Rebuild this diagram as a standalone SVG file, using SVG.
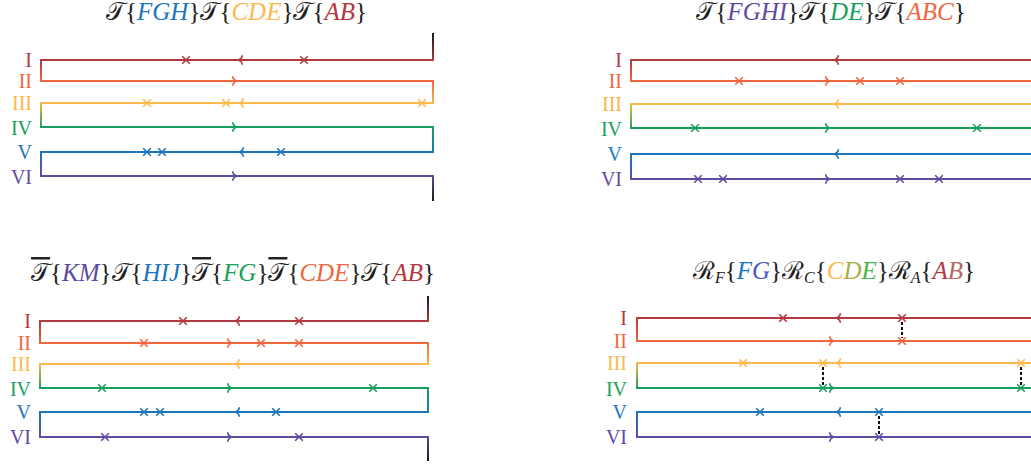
<svg xmlns="http://www.w3.org/2000/svg" xmlns:xlink="http://www.w3.org/1999/xlink" width="1031" height="466" viewBox="0 0 1031 466">
<style>
.ln{fill:none;stroke-width:2}
.mk{fill:none;stroke-width:1.6}
.c1{stroke:#b2393f}.c2{stroke:#f0663f}.c3{stroke:#fdb94d}.c4{stroke:#17a05d}.c5{stroke:#1b76bd}.c6{stroke:#5f4ba0}
.f1{fill:#b2393f}.f2{fill:#f0663f}.f3{fill:#fdb94d}.f4{fill:#17a05d}.f5{fill:#1b76bd}.f6{fill:#5f4ba0}
.lab{font-family:"Liberation Serif","Times New Roman",serif;font-size:20px;text-anchor:end}
.ttl{font-family:"Liberation Serif","Times New Roman",serif;font-size:25px;text-anchor:middle;fill:#222}
.it{font-style:italic}
.bar{text-decoration:overline}
.sub{font-size:16px;font-style:italic}
.dash{stroke:#111;stroke-width:2;stroke-dasharray:3 2;fill:none}
</style>
<defs>
<path id="x" d="M-3.8,-3.8L3.8,3.8M-3.8,3.8L3.8,-3.8"/>
<path id="al" d="M2.5,-4.8C1.8,-1.7 0.5,-0.4 -2.5,0C0.5,0.4 1.8,1.7 2.5,4.8"/>
<path id="ar" d="M-2.5,-4.8C-1.8,-1.7 -0.5,-0.4 2.5,0C-0.5,0.4 -1.8,1.7 -2.5,4.8"/>
<linearGradient id="g12" x1="0" y1="0" x2="0" y2="1"><stop offset="0" stop-color="#b2393f"/><stop offset="1" stop-color="#f0663f"/></linearGradient>
<linearGradient id="g23" x1="0" y1="0" x2="0" y2="1"><stop offset="0" stop-color="#f0663f"/><stop offset="1" stop-color="#fdb94d"/></linearGradient>
<linearGradient id="g34" x1="0" y1="0" x2="0" y2="1"><stop offset="0" stop-color="#fdb94d"/><stop offset="1" stop-color="#17a05d"/></linearGradient>
<linearGradient id="g45" x1="0" y1="0" x2="0" y2="1"><stop offset="0" stop-color="#17a05d"/><stop offset="1" stop-color="#1b76bd"/></linearGradient>
<linearGradient id="g56" x1="0" y1="0" x2="0" y2="1"><stop offset="0" stop-color="#1b76bd"/><stop offset="1" stop-color="#5f4ba0"/></linearGradient>
<linearGradient id="gtop" x1="0" y1="0" x2="0" y2="1"><stop offset="0" stop-color="#1a1a1a"/><stop offset="1" stop-color="#b2393f"/></linearGradient>
<linearGradient id="gbot" x1="0" y1="0" x2="0" y2="1"><stop offset="0" stop-color="#5f4ba0"/><stop offset="1" stop-color="#1a1a1a"/></linearGradient>
</defs>

<!-- Panel 1 -->
<g id="panel1">
<text class="ttl" x="236.5" y="20">𝒯{<tspan class="it" fill="#1b76bd">FGH</tspan>}𝒯{<tspan class="it" fill="#fdb94d">CDE</tspan>}𝒯{<tspan class="it" fill="#b2393f">AB</tspan>}</text>
<g id="p1-labels" class="lab">
<text class="f1" x="32" y="67">I</text><text class="f2" x="32" y="88">II</text><text class="f3" x="32" y="110">III</text>
<text class="f4" x="32" y="135">IV</text><text class="f5" x="32" y="159">V</text><text class="f6" x="32" y="184">VI</text>
</g>
<g id="p1-connectors">
<rect x="432" y="33" width="2" height="28" fill="url(#gtop)"/>
<path class="ln c1" d="M434,60H40"/>
<rect x="40" y="59" width="2" height="23" fill="url(#g12)"/>
<path class="ln c2" d="M40,81H434"/>
<rect x="432" y="80" width="2" height="24" fill="url(#g23)"/>
<path class="ln c3" d="M434,103H40"/>
<rect x="40" y="102" width="2" height="26" fill="url(#g34)"/>
<path class="ln c4" d="M40,127H434"/>
<rect x="432" y="126" width="2" height="27" fill="url(#g45)"/>
<path class="ln c5" d="M434,152H40"/>
<rect x="40" y="151" width="2" height="26" fill="url(#g56)"/>
<path class="ln c6" d="M40,176H434"/>
<rect x="432" y="175" width="2" height="26" fill="url(#gbot)"/>
</g>
<g id="p1-marks" class="mk">
<use href="#x" class="c1" x="186" y="60"/><use href="#al" class="c1" x="240" y="60"/><use href="#x" class="c1" x="304" y="60"/>
<use href="#ar" class="c2" x="235" y="81"/>
<use href="#x" class="c3" x="147" y="103"/><use href="#x" class="c3" x="226" y="103"/><use href="#al" class="c3" x="241" y="103"/><use href="#x" class="c3" x="422" y="103"/>
<use href="#ar" class="c4" x="235" y="127"/>
<use href="#x" class="c5" x="147" y="152"/><use href="#x" class="c5" x="162" y="152"/><use href="#al" class="c5" x="241" y="152"/><use href="#x" class="c5" x="281" y="152"/>
<use href="#ar" class="c6" x="235" y="176"/>
</g>
</g>

<!-- Panel 2 -->
<g id="panel2">
<text class="ttl" x="831" y="20">𝒯{<tspan class="it" fill="#5f4ba0">FGHI</tspan>}𝒯{<tspan class="it" fill="#17a05d">DE</tspan>}𝒯{<tspan class="it" fill="#f0663f">ABC</tspan>}</text>
<g id="p2-labels" class="lab">
<text class="f1" x="622" y="67">I</text><text class="f2" x="622" y="88">II</text><text class="f3" x="622" y="111">III</text>
<text class="f4" x="622" y="136">IV</text><text class="f5" x="622" y="161">V</text><text class="f6" x="622" y="186">VI</text>
</g>
<g id="p2-connectors">
<path class="ln c1" d="M1032,60H630"/>
<rect x="630" y="59" width="2" height="23" fill="url(#g12)"/>
<path class="ln c2" d="M630,81H1032"/>
<path class="ln c3" d="M1032,104H630"/>
<rect x="630" y="103" width="2" height="26" fill="url(#g34)"/>
<path class="ln c4" d="M630,128H1032"/>
<path class="ln c5" d="M1032,154H630"/>
<rect x="630" y="153" width="2" height="27" fill="url(#g56)"/>
<path class="ln c6" d="M630,179H1032"/>
</g>
<g id="p2-marks" class="mk">
<use href="#al" class="c1" x="836" y="60"/>
<use href="#x" class="c2" x="739" y="81"/><use href="#ar" class="c2" x="828" y="81"/><use href="#x" class="c2" x="860" y="81"/><use href="#x" class="c2" x="900" y="81"/>
<use href="#al" class="c3" x="836" y="104"/>
<use href="#x" class="c4" x="695" y="128"/><use href="#ar" class="c4" x="828" y="128"/><use href="#x" class="c4" x="977" y="128"/>
<use href="#al" class="c5" x="836" y="154"/>
<use href="#x" class="c6" x="698" y="179"/><use href="#x" class="c6" x="723" y="179"/><use href="#ar" class="c6" x="828" y="179"/><use href="#x" class="c6" x="900" y="179"/><use href="#x" class="c6" x="939" y="179"/>
</g>
</g>

<!-- Panel 3 -->
<g id="panel3">
<text class="ttl" x="233" y="281"><tspan class="bar">𝒯</tspan>{<tspan class="it" fill="#5f4ba0">KM</tspan>}𝒯{<tspan class="it" fill="#1b76bd">HIJ</tspan>}<tspan class="bar">𝒯</tspan>{<tspan class="it" fill="#17a05d">FG</tspan>}<tspan class="bar">𝒯</tspan>{<tspan class="it" fill="#f0663f">CDE</tspan>}𝒯{<tspan class="it" fill="#b2393f">AB</tspan>}</text>
<g id="p3-labels" class="lab">
<text class="f1" x="31" y="328">I</text><text class="f2" x="31" y="350">II</text><text class="f3" x="31" y="371">III</text>
<text class="f4" x="31" y="396">IV</text><text class="f5" x="31" y="419">V</text><text class="f6" x="31" y="444">VI</text>
</g>
<g id="p3-connectors">
<rect x="427" y="296" width="2" height="26" fill="url(#gtop)"/>
<path class="ln c1" d="M429,321H39"/>
<rect x="39" y="320" width="2" height="24" fill="url(#g12)"/>
<path class="ln c2" d="M39,343H429"/>
<rect x="427" y="342" width="2" height="23" fill="url(#g23)"/>
<path class="ln c3" d="M429,364H39"/>
<rect x="39" y="363" width="2" height="26" fill="url(#g34)"/>
<path class="ln c4" d="M39,388H429"/>
<rect x="427" y="387" width="2" height="26" fill="url(#g45)"/>
<path class="ln c5" d="M429,412H39"/>
<rect x="39" y="411" width="2" height="27" fill="url(#g56)"/>
<path class="ln c6" d="M39,437H429"/>
<rect x="427" y="436" width="2" height="25" fill="url(#gbot)"/>
</g>
<g id="p3-marks" class="mk">
<use href="#x" class="c1" x="183" y="321"/><use href="#al" class="c1" x="237" y="321"/><use href="#x" class="c1" x="299" y="321"/>
<use href="#x" class="c2" x="144" y="343"/><use href="#ar" class="c2" x="230" y="343"/><use href="#x" class="c2" x="261" y="343"/><use href="#x" class="c2" x="299" y="343"/>
<use href="#al" class="c3" x="237" y="364"/>
<use href="#x" class="c4" x="102" y="388"/><use href="#ar" class="c4" x="230" y="388"/><use href="#x" class="c4" x="373" y="388"/>
<use href="#x" class="c5" x="144" y="412"/><use href="#x" class="c5" x="160" y="412"/><use href="#al" class="c5" x="237" y="412"/><use href="#x" class="c5" x="276" y="412"/>
<use href="#x" class="c6" x="105" y="437"/><use href="#ar" class="c6" x="230" y="437"/><use href="#x" class="c6" x="299" y="437"/>
</g>
</g>

<!-- Panel 4 -->
<g id="panel4">
<text class="ttl" x="834" y="279">ℛ<tspan class="sub" dy="4">F</tspan><tspan dy="-4">{</tspan><tspan class="it" fill="#1b76bd">F</tspan><tspan class="it" fill="#4a55c8">G</tspan>}ℛ<tspan class="sub" dy="4">C</tspan><tspan dy="-4">{</tspan><tspan class="it" fill="#fdb94d">C</tspan><tspan class="it" fill="#a9b04a">D</tspan><tspan class="it" fill="#4bb54e">E</tspan>}ℛ<tspan class="sub" dy="4">A</tspan><tspan dy="-4">{</tspan><tspan class="it" fill="#b2393f">A</tspan><tspan class="it" fill="#b06a6a">B</tspan>}</text>
<g id="p4-labels" class="lab">
<text class="f1" x="627" y="325">I</text><text class="f2" x="627" y="348">II</text><text class="f3" x="627" y="370">III</text>
<text class="f4" x="627" y="396">IV</text><text class="f5" x="627" y="419">V</text><text class="f6" x="627" y="444">VI</text>
</g>
<g id="p4-connectors">
<path class="ln c1" d="M1032,318H636"/>
<rect x="636" y="317" width="2" height="25" fill="url(#g12)"/>
<path class="ln c2" d="M636,341H1032"/>
<path class="ln c3" d="M1032,363H636"/>
<rect x="636" y="362" width="2" height="27" fill="url(#g34)"/>
<path class="ln c4" d="M636,388H1032"/>
<path class="ln c5" d="M1032,412H636"/>
<rect x="636" y="411" width="2" height="27" fill="url(#g56)"/>
<path class="ln c6" d="M636,437H1032"/>
<path class="dash" d="M902,322V338M823,367V385M1021,367V385M879,416V434"/>
</g>
<g id="p4-marks" class="mk">
<use href="#x" class="c1" x="783" y="318"/><use href="#al" class="c1" x="838" y="318"/><use href="#x" class="c1" x="902" y="318"/>
<use href="#ar" class="c2" x="832" y="341"/><use href="#x" class="c2" x="902" y="341"/>
<use href="#x" class="c3" x="743" y="363"/><use href="#x" class="c3" x="823" y="363"/><use href="#al" class="c3" x="838" y="363"/><use href="#x" class="c3" x="1021" y="363"/>
<use href="#x" class="c4" x="823" y="388"/><use href="#ar" class="c4" x="832" y="388"/><use href="#x" class="c4" x="1021" y="388"/>
<use href="#x" class="c5" x="760" y="412"/><use href="#al" class="c5" x="838" y="412"/><use href="#x" class="c5" x="879" y="412"/>
<use href="#ar" class="c6" x="832" y="437"/><use href="#x" class="c6" x="879" y="437"/>
</g>
</g>
</svg>
